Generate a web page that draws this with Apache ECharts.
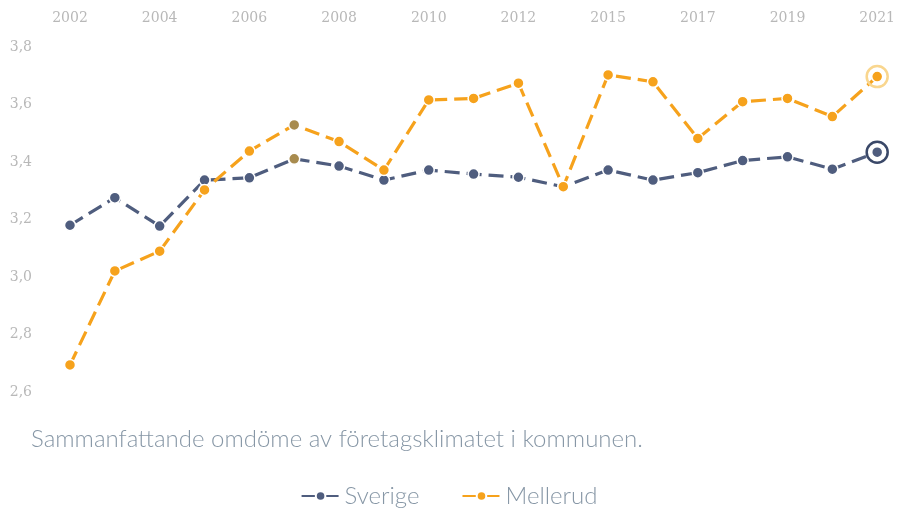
<!DOCTYPE html>
<html>
<head>
<meta charset="utf-8">
<script src="https://cdn.jsdelivr.net/npm/echarts@6/dist/echarts.min.js"></script>
<style>
html,body{margin:0;padding:0;background:#fff;}
#c{width:898px;height:511px;}
</style>
</head>
<body>
<div id="c"></div>
<script>
const years = ['2002','2003','2004','2005','2006','2007','2008','2009','2010','2011','2012','2014','2015','2016','2017','2018','2019','2020','2021'];
const sverige = [3.18,3.276,3.177,3.337,3.345,3.411,3.386,3.337,3.372,3.358,3.347,3.314,3.372,3.337,3.363,3.405,3.418,3.375,3.434];
const mellerud = [2.694,3.021,3.09,3.303,3.438,3.529,3.471,3.372,3.616,3.621,3.674,3.314,3.703,3.679,3.482,3.61,3.621,3.558,3.697];
const yTicks = [2.6,2.8,3.0,3.2,3.4,3.6,3.8];
const highlightYear = '2007';
const titleText = 'Sammanfattande omdöme av företagsklimatet i kommunen.';

const chart = echarts.init(document.getElementById('c'));
const FONT = 'Lato, "Open Sans", sans-serif';
const sverigeColor = '#4f5d7e';
const mellerudColor = '#f6a21c';
const hlColor = '#a88b4e';
const last = years.length - 1;

function styledData(arr) {
  return arr.map((v, i) => {
    if (years[i] === highlightYear) return {value: v, itemStyle: {color: hlColor}};
    return v;
  });
}

chart.setOption({
  animation: false,
  backgroundColor: '#fff',
  textStyle: {fontFamily: FONT},
  title: {
    text: titleText,
    left: 26, top: 422,
    textStyle: {fontFamily: FONT, fontSize: 24, fontWeight: 300, color: '#8797a6'}
  },
  legend: {
    data: ['Sverige', 'Mellerud'],
    bottom: -2, left: 'center',
    itemWidth: 38, itemHeight: 12, itemGap: 42,
    textStyle: {fontFamily: FONT, fontSize: 24, fontWeight: 300, color: '#8797a6'}
  },
  grid: {left: 70, right: 19, top: 47, height: 345, containLabel: false},
  xAxis: {
    type: 'category', position: 'top', boundaryGap: false, data: years,
    axisLine: {show: false}, axisTick: {show: false}, splitLine: {show: false},
    axisLabel: {interval: 1, margin: 22, color: '#b8b8b8', fontSize: 14, fontFamily: '"DejaVu Serif", serif'}
  },
  yAxis: {
    type: 'value', min: 2.6, max: 3.8, interval: 0.2,
    axisLine: {show: false}, axisTick: {show: false}, splitLine: {show: false},
    axisLabel: {margin: 38, color: '#b8b8b8', fontSize: 14, fontFamily: '"DejaVu Serif", serif',
      formatter: v => v.toFixed(1).replace('.', ',')}
  },
  series: [
    {
      name: 'Sverige', type: 'line', data: styledData(sverige), z: 3,
      symbol: 'circle', symbolSize: 11,
      lineStyle: {color: sverigeColor, width: 3.2, type: [15, 7]},
      itemStyle: {color: sverigeColor, borderColor: '#fff', borderWidth: 1.5},
      markPoint: {
        symbol: 'circle', symbolSize: 21, silent: true, label: {show: false},
        itemStyle: {color: 'rgba(255,255,255,0)', borderColor: '#3a4868', borderWidth: 2.5},
        data: [{coord: [years[last], sverige[last]]}]
      }
    },
    {
      name: 'Mellerud', type: 'line', data: styledData(mellerud), z: 4,
      symbol: 'circle', symbolSize: 11,
      lineStyle: {color: mellerudColor, width: 3.2, type: [15, 7]},
      itemStyle: {color: mellerudColor, borderColor: '#fff', borderWidth: 1.5},
      markPoint: {
        symbol: 'circle', symbolSize: 21, silent: true, label: {show: false},
        itemStyle: {color: 'rgba(255,255,255,0)', borderColor: '#f9d68e', borderWidth: 2.5},
        data: [{coord: [years[last], mellerud[last]]}]
      }
    }
  ]
});
</script>
</body>
</html>
